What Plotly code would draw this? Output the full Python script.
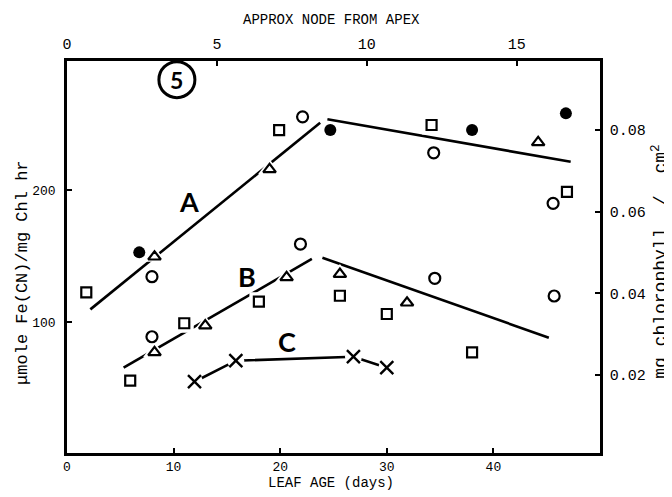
import plotly.graph_objects as go

# ---------------- data (x = leaf age in days, y = umole Fe(CN)/mg Chl hr) -------------
circle_x = [7.97, 22.1, 34.4, 45.6, 7.97, 21.9, 34.5, 45.7]
circle_y = [134.4, 255.3, 228.1, 189.9, 89.0, 159.1, 133.2, 119.8]

square_x = [1.81, 19.9, 34.2, 46.9, 5.93, 11.0, 18.0, 25.6, 30.0, 38.0]
square_y = [122.6, 245.3, 249.1, 198.6, 55.8, 99.2, 115.5, 120.0, 106.2, 77.2]

triangle_x = [8.21, 19.0, 44.2, 8.21, 12.97, 20.6, 25.6, 31.9]
triangle_y = [149.5, 215.6, 236.0, 77.2, 97.4, 133.9, 136.4, 114.7]

filled_x = [6.78, 24.7, 38.0, 46.8]
filled_y = [152.8, 245.3, 245.3, 257.9]

c_x = [11.96, 15.84, 26.87, 30.0]
c_y = [55.0, 70.9, 73.9, 65.6]

# fitted lines (two segments per curve)
a1_x = [2.19, 23.75]
a1_y = [109.7, 250.8]
a2_x = [24.43, 47.25]
a2_y = [253.4, 221.3]
b1_x = [5.31, 22.97]
b1_y = [65.6, 147.8]
b2_x = [23.96, 45.2]
b2_y = [148.7, 88.3]

# axis ticks
bottom_ticks = [0, 10, 20, 30, 40]
top_ticks = [0, 5, 10, 15]
left_ticks = [100, 200]
right_ticks = [0.02, 0.04, 0.06, 0.08]
right_ticktext = ["0.02", "0.04", "0.06", "0.08"]

curve_labels = ["A", "B", "C"]
curve_label_x = [11.4, 16.9, 20.6]
curve_label_y = [191, 134.4, 85.3]

panel_number = "5"
panel_x, panel_y = 10.31, 283.4

MONO = "Liberation Mono"
LW = 2.6

fig = go.Figure()

# lines first
for lx, ly in [(a1_x, a1_y), (a2_x, a2_y), (b1_x, b1_y), (b2_x, b2_y), (c_x, c_y)]:
    fig.add_trace(go.Scatter(x=lx, y=ly, mode="lines",
                             line=dict(color="black", width=LW),
                             showlegend=False, hoverinfo="skip"))

# white halos (break the lines around markers)
for hx, hy, sym, sz in [(triangle_x, triangle_y, "triangle-up", 20),
                        (square_x, square_y, "square", 19),
                        (c_x, c_y, "circle", 17)]:
    fig.add_trace(go.Scatter(x=hx, y=hy, mode="markers",
                             marker=dict(symbol=sym, size=sz, color="white",
                                         line=dict(width=0)),
                             showlegend=False, hoverinfo="skip"))

# markers
fig.add_trace(go.Scatter(x=circle_x, y=circle_y, mode="markers",
                         marker=dict(symbol="circle-open", size=11, color="black",
                                     line=dict(width=2.2, color="black")),
                         showlegend=False))
fig.add_trace(go.Scatter(x=square_x, y=square_y, mode="markers",
                         marker=dict(symbol="square-open", size=10, color="black",
                                     line=dict(width=2.2, color="black")),
                         showlegend=False))
fig.add_trace(go.Scatter(x=triangle_x, y=triangle_y, mode="markers",
                         marker=dict(symbol="triangle-up-open", size=11, color="black",
                                     line=dict(width=2.2, color="black")),
                         showlegend=False))
fig.add_trace(go.Scatter(x=filled_x, y=filled_y, mode="markers",
                         marker=dict(symbol="circle", size=12, color="black"),
                         showlegend=False))
fig.add_trace(go.Scatter(x=c_x, y=c_y, mode="markers",
                         marker=dict(symbol="x-thin", size=13, color="black",
                                     line=dict(width=2.4, color="black")),
                         showlegend=False))

# dummy trace to activate top and right axes
fig.add_trace(go.Scatter(x=[None], y=[None], xaxis="x2", yaxis="y2",
                         showlegend=False, hoverinfo="skip"))

axis_common = dict(showline=True, linecolor="black", linewidth=2.6,
                   ticks="inside", ticklen=5, tickwidth=2, tickcolor="black",
                   showgrid=False, zeroline=False)

# the page adds an 8px body margin, so the margins are reduced by 8px
fig.update_layout(
    width=672, height=497,
    margin=dict(l=59, r=80, t=53, b=52),
    paper_bgcolor="white", plot_bgcolor="white",
    xaxis=dict(range=[0, 50], tickvals=bottom_ticks,
               tickfont=dict(family=MONO, size=13, color="black"),
               ticklabelstandoff=0, **axis_common),
    xaxis2=dict(range=[0, 17.78], tickvals=top_ticks, overlaying="x", side="top",
                tickfont=dict(family=MONO, size=15, color="black"),
                ticklabelstandoff=3, **axis_common),
    yaxis=dict(range=[1.1, 297.5], tickvals=left_ticks,
               tickfont=dict(family=MONO, size=13, color="black"),
               ticklabelstandoff=6, **axis_common),
    yaxis2=dict(range=[0.0009, 0.0969], tickvals=right_ticks, ticktext=right_ticktext,
                overlaying="y", side="right",
                tickfont=dict(family=MONO, size=15, color="black"),
                ticklabelstandoff=4, **axis_common),
)

annotations = []
for t, x, y in zip(curve_labels, curve_label_x, curve_label_y):
    annotations.append(dict(x=x, y=y, xref="x", yref="y", text="<b>" + t + "</b>",
                            showarrow=False, xanchor="center", yanchor="middle",
                            font=dict(family="Lato", size=27, color="black")))
annotations.append(dict(x=panel_x, y=panel_y, xref="x", yref="y",
                        text="<b>" + panel_number + "</b>",
                        showarrow=False, xanchor="center", yanchor="middle",
                        font=dict(family="Lato", size=23, color="black")))
annotations += [
    dict(x=0.497, y=1.1046, xref="paper", yref="paper", text="APPROX NODE FROM APEX",
         showarrow=False, xanchor="center", yanchor="middle",
         font=dict(family=MONO, size=14, color="black")),
    dict(x=0.496, y=-0.0765, xref="paper", yref="paper", text="LEAF AGE (days)",
         showarrow=False, xanchor="center", yanchor="middle",
         font=dict(family=MONO, size=14, color="black")),
    dict(x=-0.084, y=0.46, xref="paper", yref="paper",
         text="\u03bcmole Fe(CN)/mg Chl hr", textangle=-90,
         showarrow=False, xanchor="center", yanchor="middle",
         font=dict(family=MONO, size=17, color="black")),
    dict(x=1.112, y=0.487, xref="paper", yref="paper",
         text="mg chlorophyll  /  cm<sup>2</sup>", textangle=-90,
         showarrow=False, xanchor="center", yanchor="middle",
         font=dict(family=MONO, size=18, color="black")),
]
fig.update_layout(annotations=annotations)

fig.add_shape(type="circle", xref="x", yref="y", xsizemode="pixel", ysizemode="pixel",
              xanchor=panel_x, yanchor=panel_y, x0=-18, x1=18, y0=-18, y1=18,
              line=dict(color="black", width=3))

fig.write_html("out.html")
